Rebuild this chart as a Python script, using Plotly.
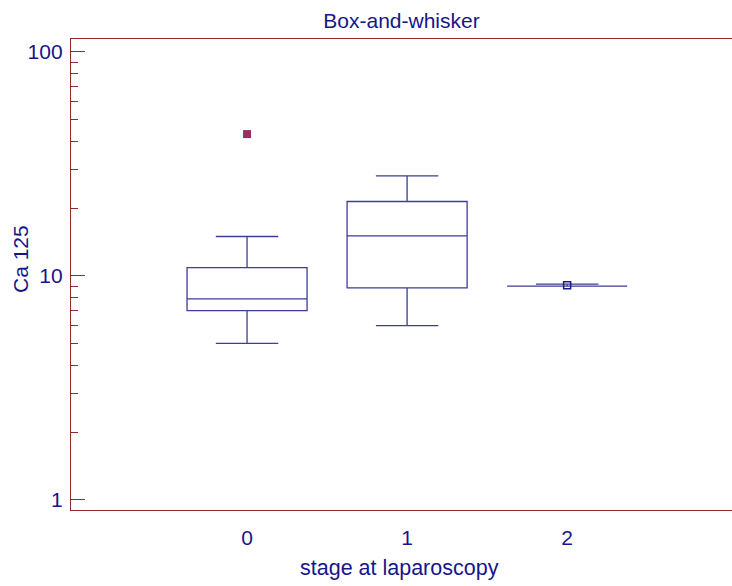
import plotly.graph_objects as go

# Data
stages = [0, 1, 2]
stage_labels = ["0", "1", "2"]
q1 = [7.0, 8.85, 9.0]
median = [7.9, 15.1, 9.0]
q3 = [10.9, 21.5, 9.0]
lower_whisker = [5.0, 6.0, 9.0]
upper_whisker = [15.0, 28.0, 9.2]
outlier_x = [0]
outlier_y = [43.0]
point_x = [2]
point_y = [9.1]

y_major = [1, 10, 100]
y_minor = [2, 3, 4, 5, 6, 7, 8, 9, 20, 30, 40, 50, 60, 70, 80, 90]

BOX_COL = "#3d3d9c"
TXT_COL = "#16168a"
AX_COL = "#8e2b2b"
FONT = "Liberation Sans, Arial, sans-serif"

fig = go.Figure()
for i, s in enumerate(stages):
    fig.add_trace(go.Box(
        x=[s], q1=[q1[i]], median=[median[i]], q3=[q3[i]],
        lowerfence=[lower_whisker[i]], upperfence=[upper_whisker[i]],
        width=0.75, whiskerwidth=0.52,
        line=dict(color=BOX_COL, width=1.3),
        fillcolor="rgba(0,0,0,0)", boxpoints=False,
        showlegend=False, hoverinfo="skip",
    ))

fig.add_trace(go.Scatter(
    x=outlier_x, y=outlier_y, mode="markers",
    marker=dict(symbol="square", size=8, color="#9b2d5f", line=dict(width=0)),
    showlegend=False,
))
fig.add_trace(go.Scatter(
    x=point_x, y=point_y, mode="markers",
    marker=dict(symbol="square-open", size=7, color="#1a1a8a", line=dict(width=1.5)),
    showlegend=False,
))

# the plot frame runs past the right edge of the window (no right border visible)
W, H = 740, 586
L, T, B = 71, 39, 76
PW, PH = W - L, H - T - B
fig.update_layout(
    width=W, height=H,
    margin=dict(l=L, r=0, t=T, b=B),
    plot_bgcolor="white", paper_bgcolor="white",
    font=dict(family=FONT, color=TXT_COL, size=21),
    title=dict(text="Box-and-whisker", x=401.5 / W, xanchor="center",
               y=1 - 13 / H, yanchor="top",
               font=dict(size=21, color=TXT_COL, family=FONT)),
    boxmode="overlay",
    annotations=[
        dict(
            text="Ca 125", textangle=-90, showarrow=False,
            xref="paper", yref="paper",
            x=(20 - L) / PW, y=(H - B - 259) / PH,
            xanchor="center", yanchor="middle",
            font=dict(size=21, color=TXT_COL, family=FONT),
        ),
        dict(
            text="stage at laparoscopy", showarrow=False,
            xref="paper", yref="paper",
            x=(399.5 - L) / PW, y=-(568 - (H - B)) / PH,
            xanchor="center", yanchor="middle",
            font=dict(size=21.5, color=TXT_COL, family=FONT),
        ),
    ],
)

fig.update_xaxes(
    range=[-1.1, 3.08], tickvals=stages, ticktext=stage_labels,
    ticks="outside", ticklen=9, tickcolor="rgba(0,0,0,0)",
    showgrid=False, zeroline=False, automargin=False,
    showline=True, linecolor=AX_COL, linewidth=1.3, mirror=True,
    tickfont=dict(size=21),
)
fig.update_yaxes(
    type="log", range=[-0.045, 2.058],
    tickvals=y_major, ticktext=[str(v) for v in y_major],
    ticks="inside", ticklen=14, tickcolor=AX_COL, tickwidth=1.3,
    minor=dict(tickvals=y_minor, ticks="inside", ticklen=7, tickcolor=AX_COL, tickwidth=1.3),
    showgrid=False, zeroline=False, automargin=False,
    showline=True, linecolor=AX_COL, linewidth=1.3, mirror=False,
    ticklabelstandoff=3,
    tickfont=dict(size=21),
)

fig.write_html(
    "out.html",
    config={"displayModeBar": False},
    post_script="document.body.style.margin='0';document.body.style.overflow='hidden';",
)
